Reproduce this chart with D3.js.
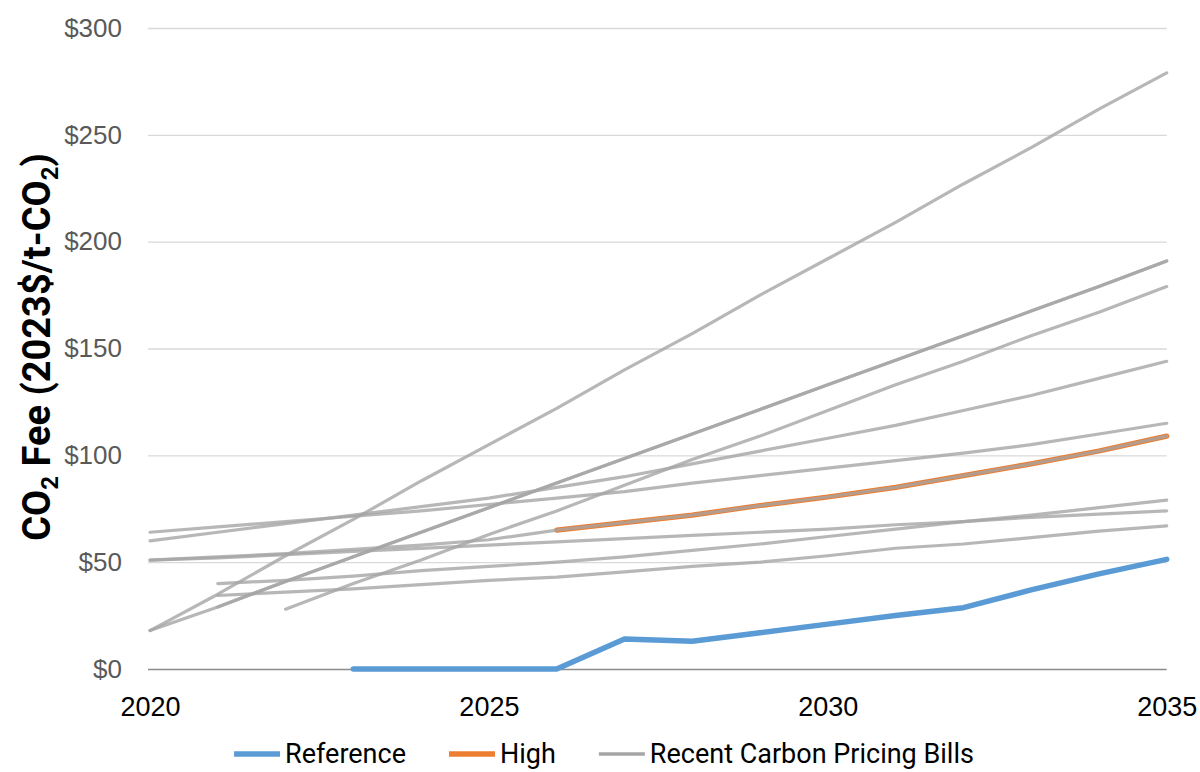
<!DOCTYPE html>
<html>
<head>
<meta charset="utf-8">
<script src="https://cdn.jsdelivr.net/npm/d3@7"></script>
<style>
body { margin: 0; background: #fff; }
svg { font-family: Roboto, "Noto Sans", sans-serif; }
</style>
</head>
<body>
<script>
// years on the x axis
var years = [2020,2021,2022,2023,2024,2025,2026,2027,2028,2029,2030,2031,2032,2033,2034,2035]

// CO2 fee, 2023$/t-CO2 (null = no value that year)
var reference = [null,null,null,0,0,0,0,14,13,17,21,25,28.7,37,44.5,51.3]
var high      = [null,null,null,null,null,null,65,68.5,72,76.5,80.5,85,90.5,96,102,109]

// recent carbon pricing bills
var bills = [
	[18,35,53,70,88,105,122,140,157,175,192,209,227,244,262,279],
	[18,29,41,52.5,64,75.5,87,98.5,110,121.5,133,144.5,156,167.5,179,191],
	[null,29,41,52.5,64,75.5,87,98.5,110,121.5,133,144.5,156,167.5,179,191],
	[null,null,28,40,51,63,74,86,98,109,121,133,144,156,167,179],
	[60,64,68,72,76,80,85,90,96,102,108,114,121,128,136,144],
	[64,66.5,69,71.5,74,77,80,83,87,90.5,94,97.5,101,105,110,115],
	[51,52.5,54,56,58,60.5,65,68.5,72,76.5,80.5,85,90.5,96,102,109],
	[51,52,53.5,55,56.5,58,59.5,61,62.5,64,65.5,67.5,69,71,72.5,74],
	[null,40,41.5,43.5,46,48,50,52.5,55.5,58.5,62,65.5,69,72,75.5,79],
	[null,34.4,36,37.5,39.5,41.5,43,45.5,48,50,53,56.5,58.5,61.5,64.5,67]
]

var yTicks = [0,50,100,150,200,250,300]
var xTicks = [2020,2025,2030,2035]
var legendItems = ['Reference','High','Recent Carbon Pricing Bills']
var colors = {'Reference':'#5B9BD5','High':'#ED7D31','Recent Carbon Pricing Bills':'#A5A5A5'}

var W = 1200, H = 772
var svg = d3.select('body').append('svg').attr('width',W).attr('height',H)

var x = d3.scaleLinear().domain([2020,2035]).range([150,1166.7])
var y = d3.scaleLinear().domain([0,300]).range([669,28])

// gridlines + y labels
var yAxis = svg.append('g').attr('transform','translate(148,0)')
	.call(d3.axisLeft(y).tickValues(yTicks).tickFormat(d=>'$'+d)
		.tickSize(-(1166.7-148)).tickPadding(26))
yAxis.select('.domain').remove()
yAxis.selectAll('.tick line').attr('stroke','#d9d9d9').attr('stroke-width',1.3)
yAxis.selectAll('.tick text').attr('fill','#595959').style('font-size','26px')
yAxis.selectAll('.tick').filter(d=>d==0).select('line').attr('stroke','#8c8c8c').attr('stroke-width',1.6)

// x labels
var xAxis = svg.append('g').attr('transform','translate(0,669)')
	.call(d3.axisBottom(x).tickValues(xTicks).tickFormat(d3.format('d')).tickSize(0).tickPadding(28))
xAxis.select('.domain').remove()
xAxis.selectAll('.tick text').attr('fill','#000').style('font-size','27px')

// y title
var title = svg.append('text')
	.attr('transform','translate(50,347) rotate(-90)')
	.attr('text-anchor','middle')
	.style('font-family','Roboto').style('font-size','38px').style('font-weight','bold').attr('fill','#000')
title.append('tspan').text('CO')
title.append('tspan').text('2').attr('dy',8).style('font-size','24px')
title.append('tspan').text(' Fee (2023$/t-CO').attr('dy',-8)
title.append('tspan').text('2').attr('dy',8).style('font-size','24px')
title.append('tspan').text(')').attr('dy',-8)

var line = d3.line()
	.defined(d=>d.v!=null)
	.x(d=>x(d.year))
	.y(d=>y(d.v))

function pts(arr){ return arr.map((v,i)=>({year:years[i],v:v})) }

var lines = svg.append('g').attr('id','lines')
	.attr('fill','none').attr('stroke-linecap','round').attr('stroke-linejoin','round')

lines.append('path').attr('d',line(pts(reference)))
	.attr('stroke',colors['Reference']).attr('stroke-width',5.5)
lines.append('path').attr('d',line(pts(high)))
	.attr('stroke',colors['High']).attr('stroke-width',5.2)

bills.forEach((e,i,a)=>{
	lines.append('path').attr('d',line(pts(e)))
		.attr('stroke',colors['Recent Carbon Pricing Bills'])
		.attr('stroke-opacity',0.8)
		.attr('stroke-width',3.2)
})

// legend
var legend = svg.append('g').attr('id','legend')
var lx = 0
legendItems.forEach((e,i,a)=>{
	var g = legend.append('g')
	g.append('line').attr('x1',0).attr('x2',46).attr('y1',0).attr('y2',0)
		.attr('stroke',colors[e])
		.attr('stroke-width',e=='Recent Carbon Pricing Bills'?3.5:5.5)
	var t = g.append('text').text(e).attr('x',51).attr('y',9)
		.style('font-size','27px').attr('fill','#000')
	var w = 51 + t.node().getComputedTextLength()
	g.attr('transform',`translate(${lx},0)`)
	lx += w + 43
})
lx -= 43
legend.attr('transform',`translate(${604-lx/2},754)`)
</script>
</body>
</html>
